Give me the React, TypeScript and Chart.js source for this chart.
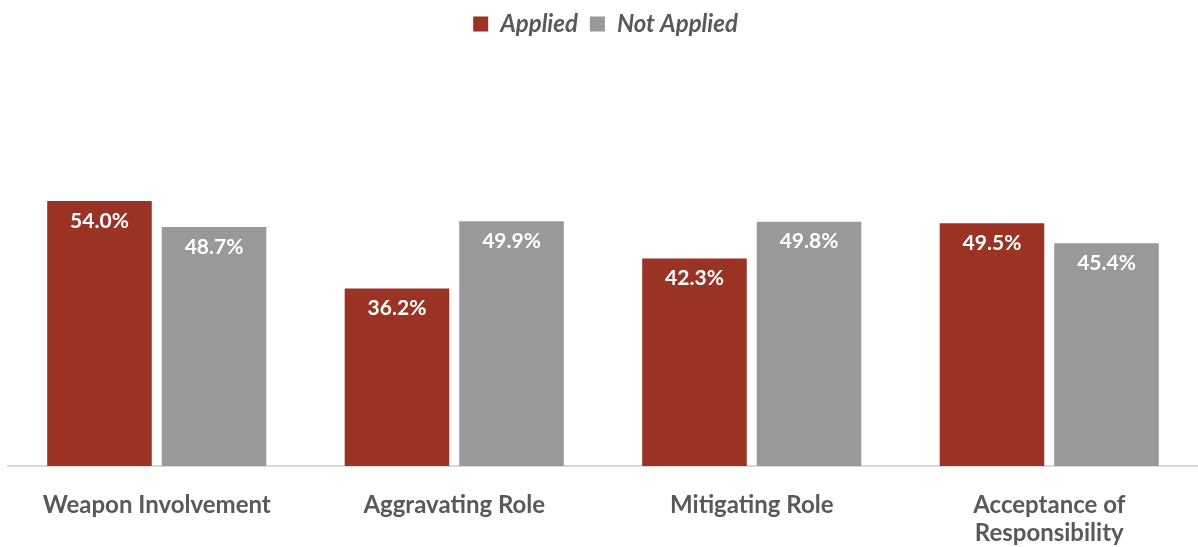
import React, { useEffect, useRef } from "react";
import { Chart, registerables } from "chart.js";

Chart.register(...registerables);

const categories: (string | string[])[] = [
  "Weapon Involvement",
  "Aggravating Role",
  "Mitigating Role",
  ["Acceptance of", "Responsibility"],
];
const appliedValues = [54.0, 36.2, 42.3, 49.5];
const notAppliedValues = [48.7, 49.9, 49.8, 45.4];
const seriesNames = ["Applied", "Not Applied"];
const seriesColors = ["#9A3324", "#98999B"];

const FONT = "Lato, 'Noto Sans', sans-serif";

const valueLabels = {
  id: "valueLabels",
  afterDatasetsDraw(chart: any) {
    const ctx = chart.ctx;
    ctx.save();
    ctx.font = `bold 21px ${FONT}`;
    ctx.fillStyle = "#ffffff";
    ctx.textAlign = "center";
    ctx.textBaseline = "middle";
    chart.data.datasets.forEach((ds: any, i: number) => {
      const meta = chart.getDatasetMeta(i);
      meta.data.forEach((bar: any, j: number) => {
        const v = ds.data[j] as number;
        ctx.fillText(v.toFixed(1) + "%", bar.x, bar.y + 20);
      });
    });
    ctx.restore();
  },
};

export default function App() {
  const canvasRef = useRef<HTMLCanvasElement | null>(null);

  useEffect(() => {
    document.body.style.margin = "0";
    const canvas = canvasRef.current;
    if (!canvas) return;
    const chart = new Chart(canvas, {
      type: "bar",
      data: {
        labels: categories,
        datasets: [
          {
            label: seriesNames[0],
            data: appliedValues,
            backgroundColor: seriesColors[0],
            categoryPercentage: 0.77,
            barPercentage: 0.913,
          },
          {
            label: seriesNames[1],
            data: notAppliedValues,
            backgroundColor: seriesColors[1],
            categoryPercentage: 0.77,
            barPercentage: 0.913,
          },
        ],
      },
      options: {
        animation: false,
        responsive: true,
        maintainAspectRatio: false,
        layout: { padding: { left: 8, right: -5, top: 0, bottom: 0 } },
        plugins: {
          legend: {
            position: "top",
            labels: {
              color: "#595959",
              font: { family: FONT, size: 24, style: "italic", weight: "bold" },
              boxWidth: 15,
              boxHeight: 15,
              padding: 12,
            },
          },
          tooltip: { enabled: false },
        },
        scales: {
          x: {
            grid: { display: false },
            border: { display: true, color: "#d9d9d9", width: 2 },
            afterFit(scale: any) {
              scale.height = 81;
            },
            ticks: {
              color: "#595959",
              font: { family: FONT, size: 24, weight: "bold", lineHeight: 1.17 },
              padding: 17,
              maxRotation: 0,
            },
          },
          y: {
            display: false,
            min: 0,
            max: 85.6,
          },
        },
      },
      plugins: [valueLabels],
    });
    return () => chart.destroy();
  }, []);

  return (
    <div style={{ width: 1198, height: 547, position: "relative" }}>
      <canvas ref={canvasRef} />
    </div>
  );
}
